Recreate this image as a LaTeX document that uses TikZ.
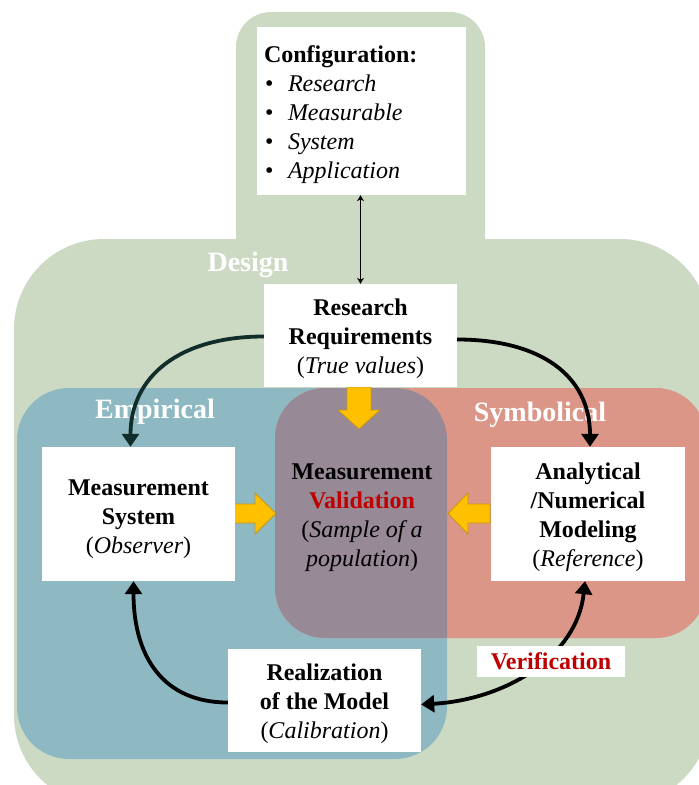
\documentclass[tikz,border=0pt]{standalone}
\usepackage{fontspec}
\setmainfont{Liberation Serif}
\usetikzlibrary{arrows.meta}

\definecolor{designgreen}{RGB}{204,218,196}
\definecolor{empblue}{RGB}{143,185,194}
\definecolor{symred}{RGB}{219,150,135}
\definecolor{overlapviolet}{RGB}{151,137,150}
\definecolor{vred}{RGB}{192,0,0}
\definecolor{blockyellow}{RGB}{255,192,0}
\definecolor{blockedge}{RGB}{196,150,20}
\definecolor{darkteal}{RGB}{18,46,42}

\tikzset{
  whitebox/.style={fill=white, draw=none, inner sep=0pt},
  plaintext/.style={inner sep=0pt, align=center, font=\fontsize{24}{29}\selectfont},
  regionlabel/.style={inner sep=0pt, text=white, font=\fontsize{28}{32}\selectfont\bfseries},
  bigarrow/.style={line width=3.8pt, -{Triangle[width=17pt,length=13pt]}},
  bigdouble/.style={line width=3.8pt, {Triangle[width=17pt,length=13pt]}-{Triangle[width=17pt,length=13pt]}},
  thindouble/.style={line width=1.3pt, {Stealth[width=7pt,length=6pt]}-{Stealth[width=7pt,length=6pt]}},
  blockarrow/.style={fill=blockyellow, draw=blockedge, line width=0.8pt, line join=miter},
}

\begin{document}
\begin{tikzpicture}[x=1pt,y=-1pt]
\useasboundingbox (0,0) rectangle (699,785);

\begin{scope}
  \clip (0,0) rectangle (699,785);
  % design region: top tab and main body
  \fill[designgreen, rounded corners=35] (236,12) rectangle (485,300);
  \fill[designgreen, rounded corners=90] (14,239) rectangle (710,805);
  % empirical and symbolical regions
  \fill[empblue, rounded corners=52] (17,388) rectangle (447,759);
  \fill[symred, rounded corners=50] (275,388) rectangle (706,638);
  % their overlap
  \begin{scope}
    \clip[rounded corners=52] (17,388) rectangle (447,759);
    \fill[overlapviolet, rounded corners=50] (275,388) rectangle (706,638);
  \end{scope}
\end{scope}

% region labels
\node[regionlabel] (lbldesign) at (248,265) {Design};
\node[regionlabel] (lblemp) at (155,412) {Empirical};
\node[regionlabel] (lblsym) at (540,415) {Symbolical};

% yellow block arrows into the validation area
\filldraw[blockarrow] (347,387) -- (371,387) -- (371,410) -- (380,410) -- (359,429)
  -- (338,410) -- (347,410) -- cycle;
\filldraw[blockarrow] (233,504) -- (255,504) -- (255,493) -- (276,513.5) -- (255,534)
  -- (255,523) -- (233,523) -- cycle;
\filldraw[blockarrow] (490,504) -- (468,504) -- (468,493) -- (448,513.5) -- (468,534)
  -- (468,523) -- (490,523) -- cycle;

% boxes
\node[whitebox, minimum width=209pt, minimum height=168pt] (config) at (361.5,111) {};
\node[whitebox, minimum width=193pt, minimum height=103pt] (research) at (360.5,335.5) {};
\node[whitebox, minimum width=193pt, minimum height=134pt] (meas) at (138.5,514) {};
\node[whitebox, minimum width=194pt, minimum height=134pt] (anal) at (588,514) {};
\node[whitebox, minimum width=193pt, minimum height=103pt] (real) at (324.5,700.5) {};

% box texts
\node[plaintext, text width=195pt, align=left] (configtext) at ([yshift=-4pt]config.center)
  {\textbf{Configuration:}\\
   \hspace*{1pt}\makebox[23pt][l]{\textbullet}\textit{Research}\\
   \hspace*{1pt}\makebox[23pt][l]{\textbullet}\textit{Measurable}\\
   \hspace*{1pt}\makebox[23pt][l]{\textbullet}\textit{System}\\
   \hspace*{1pt}\makebox[23pt][l]{\textbullet}\textit{Application}};
\node[plaintext] (researchtext) at ([yshift=-3pt]research.center)
  {\textbf{Research}\\\textbf{Requirements}\\(\textit{True values})};
\node[plaintext] (meastext) at ([yshift=-5pt]meas.center)
  {\textbf{Measurement}\\\textbf{System}\\(\textit{Observer})};
\node[plaintext] (analtext) at ([yshift=-3pt]anal.center)
  {\textbf{Analytical}\\\textbf{/Numerical}\\\textbf{Modeling}\\(\textit{Reference})};
\node[plaintext] (realtext) at ([yshift=-3pt]real.center)
  {\textbf{Realization}\\\textbf{of the Model}\\(\textit{Calibration})};
\node[plaintext] (valid) at (362,517.5)
  {\textbf{Measurement}\\\textcolor{vred}{\textbf{Validation}}\\(\textit{Sample of a}\\\textit{population})};

% connectors
\draw[thindouble] (research.north |- config.south) -- (research.north);
\draw[bigarrow, darkteal] ([yshift=-1pt]research.west) .. controls +(-85,0) and +(0,-70) .. ([xshift=-8pt]meas.north);
\draw[bigarrow] ([yshift=-4pt]research.east) .. controls +(85,0) and +(0,-70) .. ([xshift=2pt]anal.north);
\draw[bigarrow] ([yshift=-2pt]real.west) .. controls +(-65,0) and +(0,75) .. ([xshift=-5pt]meas.south);
\draw[bigdouble] ([xshift=-3pt]anal.south) .. controls +(-8,75) and +(85,-5) .. ([yshift=-4pt]real.east);

\node[whitebox, minimum width=148pt, minimum height=31pt, text=vred,
  font=\fontsize{24}{29}\selectfont\bfseries]
  (verif) at (551,661) {Verification};

\end{tikzpicture}
\end{document}
